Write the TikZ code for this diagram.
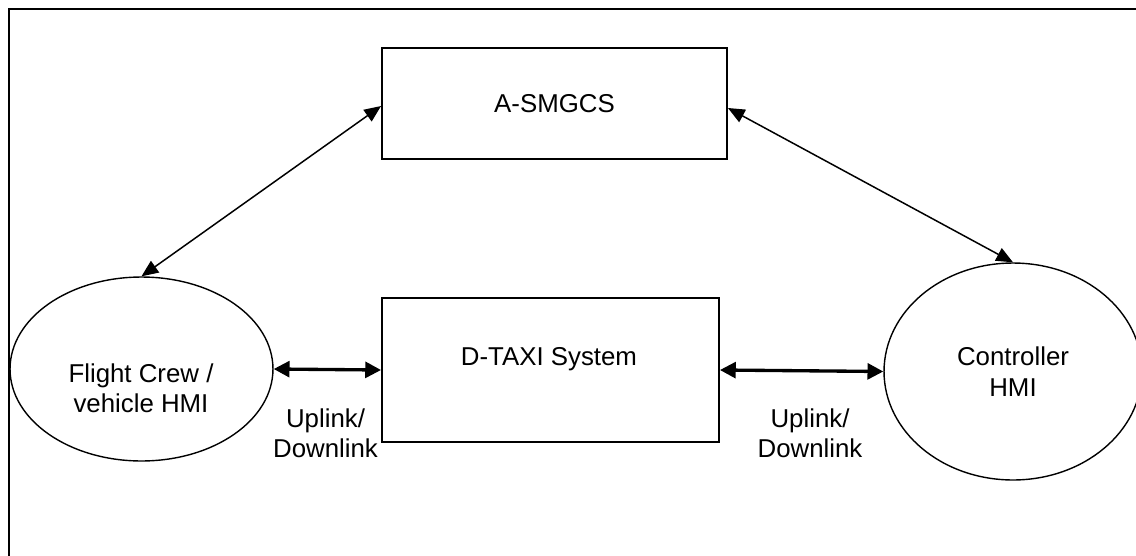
\documentclass[tikz,border=0pt]{standalone}
\usepackage{fontspec}
\setmainfont{Liberation Sans}
\usetikzlibrary{shapes.geometric,arrows.meta}
\tikzset{
  boxnode/.style={draw, line width=1.1pt, inner sep=0pt, font=\fontsize{14.7}{17.6}\selectfont},
  ellnode/.style={draw, ellipse, line width=0.8pt, inner sep=0pt, align=center, font=\fontsize{14.7}{17.6}\selectfont},
  lbl/.style={inner sep=0pt, align=center, font=\fontsize{14.7}{17.3}\selectfont},
  thinarrow/.style={line width=0.85pt, {Triangle[length=9.5pt,width=8pt]}-{Triangle[length=9.5pt,width=8pt]}},
  thickarrow/.style={line width=1.9pt, {Triangle[length=9pt,width=9pt]}-{Triangle[length=9pt,width=9pt]}},
  frame/.style={line width=1.1pt}
}
\begin{document}
\begin{tikzpicture}[x=0.02cm,y=-0.02cm]
\clip (0,0) rectangle (1136,555);
\draw[frame] (9,9) rectangle (1170,590);
% nodes
\node[boxnode, minimum width=6.9cm, minimum height=2.22cm] (asm) at (554.5,103.5) {A-SMGCS};
\node[boxnode, minimum width=6.74cm, minimum height=2.88cm] (dt) at (550.5,370) {};
\node[lbl, anchor=base] (dtl) at (549,365) {D-TAXI System};
\node[ellnode, minimum width=5.26cm, minimum height=3.68cm] (fc) at (141.5,369) {};
\node[lbl] (fcl) at (141,388) {Flight Crew /\\vehicle HMI};
\node[ellnode, minimum width=5.16cm, minimum height=4.34cm] (ctl) at (1013,371.5) {Controller\\HMI};
\node[lbl] (ul1) at (325.5,433) {Uplink/\\Downlink};
\node[lbl] (ul2) at (810,433) {Uplink/\\Downlink};
% connectors
\draw[thinarrow] ([yshift=-0.05cm]asm.west) -- (fc.north);
\draw[thinarrow] ([yshift=-0.09cm]asm.east) -- (ctl.north);
\draw[thickarrow] (fc.east) -- (dt.west);
\draw[thickarrow] (dt.east) -- (ctl.west);
\end{tikzpicture}
\end{document}
